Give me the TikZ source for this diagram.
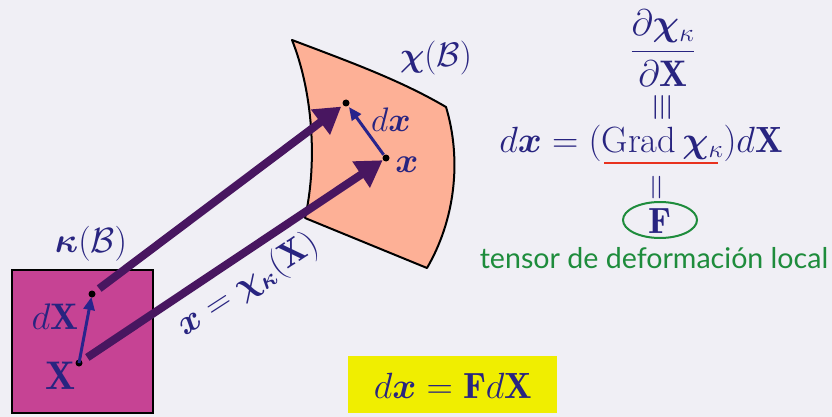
\RequirePackage{fix-cm}
\documentclass[tikz,border=0pt]{standalone}
\usepackage{fontspec}
\usepackage{amsmath,bm}
\newfontfamily\gfont{Lato}
\usetikzlibrary{arrows.meta}
\definecolor{bg}{RGB}{240,239,245}
\definecolor{navy}{RGB}{40,36,128}
\definecolor{bigpurple}{RGB}{72,22,96}
\definecolor{smallblue}{RGB}{40,36,140}
\definecolor{magentafill}{RGB}{198,67,148}
\definecolor{salmon}{RGB}{253,176,150}
\definecolor{yellowbox}{RGB}{240,238,0}
\definecolor{greentxt}{RGB}{30,140,60}
\definecolor{redline}{RGB}{232,50,30}
\tikzset{
  lbl/.style={text=navy, inner sep=0pt, font=\fontsize{34}{40}\selectfont},
  biglbl/.style={text=navy, inner sep=0pt, font=\fontsize{36.5}{44}\selectfont},
  bigarrow/.style={draw=bigpurple, line width=8pt, -{Triangle[length=26pt,width=30pt]}},
  smallarrow/.style={draw=smallblue, line width=3pt, -{Triangle[length=13pt,width=11pt]}},
  dot/.style={circle, fill=black, inner sep=0pt, minimum size=7pt},
}
\begin{document}
\begin{tikzpicture}[x=1pt,y=-1pt]
\useasboundingbox (0,0) rectangle (832,417);
\fill[bg] (0,0) rectangle (832,417);
% reference body
\draw[line width=2.2pt, fill=magentafill] (12,270) rectangle (153,413);
% deformed body
\draw[line width=2pt, fill=salmon, line join=round]
  (292,40) .. controls (350,62) and (400,80) .. (446,107)
  .. controls (462,160) and (455,220) .. (427,268)
  -- (305,218)
  .. controls (318,160) and (312,90) .. (292,40) -- cycle;
% points
\node[dot] (X) at (79,363) {};
\node[dot] (dXp) at (92,294) {};
\node[dot] (x) at (386,158) {};
\node[dot] (dxp) at (346,103) {};
% mapping arrows
\draw[bigarrow, shorten <=9pt, shorten >=6pt] (dXp.center) -- (dxp.center);
\draw[bigarrow, shorten <=10pt, shorten >=4pt] (X.center) -- (x.center);
% small vectors
\draw[smallarrow, shorten >=3pt] (X.center) -- (dXp.center);
\draw[smallarrow, shorten <=4pt, shorten >=5pt] (x.center) -- (dxp.center);
% labels
\node[lbl, font=\fontsize{40}{46}\selectfont] (lX) at (61,376) {$\mathbf{X}$};
\node[lbl, font=\fontsize{37}{44}\selectfont] (ldX) at (55,317) {$d\mathbf{X}$};
\node[lbl, font=\fontsize{35}{42}\selectfont] (lkB) at (91,244) {$\bm{\kappa}(\mathcal{B})$};
\node[lbl] (lchiB) at (436,58) {$\bm{\chi}(\mathcal{B})$};
\node[lbl] (ldx) at (391,120) {$d\bm{x}$};
\node[lbl, font=\fontsize{35}{42}\selectfont] (lx) at (407,165) {$\bm{x}$};
\node[lbl, font=\fontsize{35}{42}\selectfont, rotate=33] (lmap) at (248,285) {$\bm{x}=\bm{\chi}_{\bm{\kappa}}(\mathbf{X})$};
% right-hand equations
\node[biglbl, font=\fontsize{37}{44}\selectfont] (frac) at (663,48) {$\dfrac{\partial\bm{\chi}_{\kappa}}{\partial\mathbf{X}}$};
\node[lbl, font=\fontsize{36}{44}\selectfont, rotate=90] (eqv) at (663,107) {$\equiv$};
\node[biglbl] (eq) at (641,143) {$d\bm{x}=(\mathrm{Grad}\,\bm{\chi}_{\kappa})d\mathbf{X}$};
\coordinate (ul1) at (604,163);
\coordinate (ul2) at (718,163);
\draw[redline, line width=2pt] (ul1) -- (ul2);
\node[lbl, font=\fontsize{36}{44}\selectfont, rotate=90] (eqs) at (659,188) {$=$};
\draw[greentxt, line width=2pt] (660,220) ellipse [x radius=37, y radius=18];
\node[biglbl] (F) at (660,221) {$\mathbf{F}$};
\node[text=greentxt, inner sep=0pt, font=\gfont\fontsize{28.6}{34}\selectfont] (tens) at (654,258) {tensor de deformación local};
% boxed relation
\fill[yellowbox] (348,356) rectangle (557,413);
\node[biglbl] (rel) at (453,386) {$d\bm{x}=\mathbf{F}d\mathbf{X}$};
\end{tikzpicture}
\end{document}
